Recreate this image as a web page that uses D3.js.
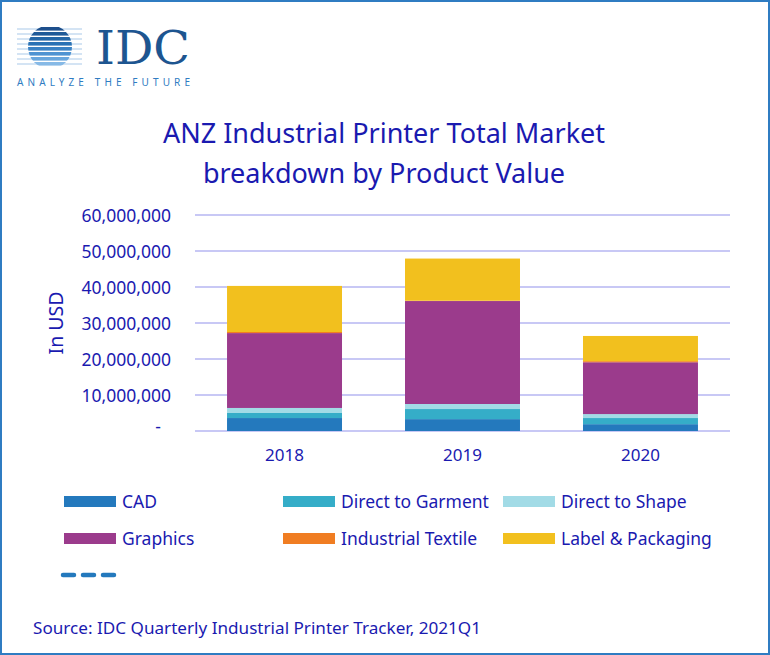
<!DOCTYPE html>
<html>
<head>
<meta charset="utf-8">
<script src="https://cdn.jsdelivr.net/npm/d3@7"></script>
<style>
  html, body { margin: 0; padding: 0; background: #fff; }
  svg text { font-family: "Noto Sans", "Open Sans", sans-serif; }
</style>
</head>
<body>
<div id="chart"></div>
<script>
// Datos (USD)
const years = ["2018", "2019", "2020"];
const seriesNames = ["CAD", "Direct to Garment", "Direct to Shape", "Graphics", "Industrial Textile", "Label & Packaging"];
const seriesColors = ["#2479bd", "#35adc8", "#a2dbe6", "#9b3b8c", "#f07d22", "#f2c01e"];
const cad = [3600000, 3300000, 1900000];
const directToGarment = [1400000, 2800000, 1700000];
const directToShape = [1400000, 1400000, 1100000];
const graphics = [20800000, 28600000, 14400000];
const industrialTextile = [300000, 100000, 300000];
const labelPackaging = [12800000, 11700000, 7000000];
const yTicks = [0, 10000000, 20000000, 30000000, 40000000, 50000000, 60000000];

const width = 770, height = 655;
const textColor = "#1a1ab0";

// Construir tabla para d3.stack
const table = years.map((y, i) => ({
  year: y,
  "CAD": cad[i],
  "Direct to Garment": directToGarment[i],
  "Direct to Shape": directToShape[i],
  "Graphics": graphics[i],
  "Industrial Textile": industrialTextile[i],
  "Label & Packaging": labelPackaging[i]
}));
const stacked = d3.stack().keys(seriesNames)(table);

const svg = d3.select("#chart").append("svg")
  .attr("width", width)
  .attr("height", height);

// Marco azul
svg.append("rect")
  .attr("x", 1).attr("y", 1)
  .attr("width", width - 2).attr("height", height - 2)
  .attr("fill", "#fff")
  .attr("stroke", "#2f7cc2")
  .attr("stroke-width", 2);

// Logo IDC (aproximado): rayas horizontales + esfera rayada
const logo = svg.append("g");
const stripeYs = [29, 34, 39, 44, 49, 54, 59, 64];
const stripeCols = ["#1d4f8c", "#1f5a98", "#2466a6", "#2a72b5", "#3b82c4", "#4f93d2", "#69a6dd", "#86b9e6"];
logo.append("clipPath").attr("id", "ball")
  .append("circle").attr("cx", 50).attr("cy", 47).attr("r", 22);
logo.selectAll(".thin").data(stripeYs).join("line")
  .attr("class", "thin")
  .attr("x1", 17).attr("x2", 82)
  .attr("y1", d => d).attr("y2", d => d)
  .attr("stroke", "#a9c9ea").attr("stroke-width", 1.2);
logo.append("g").attr("clip-path", "url(#ball)")
  .selectAll("rect").data(stripeYs).join("rect")
  .attr("x", 26).attr("width", 48)
  .attr("y", d => d - 2).attr("height", 3.6)
  .attr("fill", (d, i) => stripeCols[i]);
logo.append("text")
  .attr("x", 96).attr("y", 64)
  .style("font-family", "'DejaVu Serif', 'Liberation Serif', serif")
  .style("font-size", "46px")
  .attr("fill", "#1d5590")
  .attr("textLength", 94)
  .attr("lengthAdjust", "spacingAndGlyphs")
  .text("IDC");
logo.append("text")
  .attr("x", 17).attr("y", 86)
  .style("font-size", "10px")
  .attr("fill", "#2f7cc2")
  .attr("textLength", 173)
  .attr("lengthAdjust", "spacing")
  .text("ANALYZE THE FUTURE");

// Título
const title = svg.append("text")
  .attr("text-anchor", "middle")
  .attr("fill", textColor)
  .style("font-size", "27px");
title.append("tspan").attr("x", 384).attr("y", 143).text("ANZ Industrial Printer Total Market");
title.append("tspan").attr("x", 384).attr("y", 183).text("breakdown by Product Value");

// Escalas
const xScale = d3.scaleBand()
  .domain(years)
  .range([195, 730])
  .paddingInner(0.354)
  .paddingOuter(0.18);
const yScale = d3.scaleLinear()
  .domain([0, 60000000])
  .range([431, 215]);

// Líneas de cuadrícula
svg.append("g")
  .selectAll("line")
  .data(yTicks)
  .join("line")
  .attr("x1", 195).attr("x2", 730)
  .attr("y1", d => yScale(d)).attr("y2", d => yScale(d))
  .attr("stroke", "#b6b6f2")
  .attr("stroke-width", 1.5);

// Barras apiladas
svg.append("g")
  .selectAll("g")
  .data(stacked)
  .join("g")
  .attr("fill", (d, i) => seriesColors[i])
  .selectAll("rect")
  .data(d => d)
  .join("rect")
  .attr("x", d => xScale(d.data.year))
  .attr("y", d => yScale(d[1]))
  .attr("width", xScale.bandwidth())
  .attr("height", d => yScale(d[0]) - yScale(d[1]));

// Eje Y
const yAxis = d3.axisLeft(yScale)
  .tickValues(yTicks)
  .tickSize(0)
  .tickPadding(0)
  .tickFormat(d => d === 0 ? "-" : d3.format(",")(d));
const yAxisG = svg.append("g")
  .attr("transform", "translate(171,0)")
  .call(yAxis);
yAxisG.select(".domain").remove();
yAxisG.selectAll("text")
  .attr("fill", textColor)
  .attr("dy", "0.35em")
  .style("font-family", "'Noto Sans', sans-serif")
  .style("font-size", "17.5px");
yAxisG.selectAll(".tick").filter(d => d === 0).select("text").attr("x", -10).attr("dy", "0.1em");

// Eje X
const xAxis = d3.axisBottom(xScale).tickSize(0).tickPadding(0);
const xAxisG = svg.append("g")
  .attr("transform", "translate(0,449)")
  .call(xAxis);
xAxisG.select(".domain").remove();
xAxisG.selectAll("text")
  .attr("fill", textColor)
  .attr("dy", "0.71em")
  .style("font-family", "'Noto Sans', sans-serif")
  .style("font-size", "17px");

// Etiqueta eje Y
svg.append("text")
  .attr("transform", "translate(63,323) rotate(-90)")
  .attr("text-anchor", "middle")
  .attr("fill", textColor)
  .style("font-size", "19.5px")
  .text("In USD");

// Leyenda
const legendPos = [
  { x: 64, y: 501.5 }, { x: 283, y: 501.5 }, { x: 503, y: 501.5 },
  { x: 64, y: 538.5 }, { x: 283, y: 538.5 }, { x: 503, y: 538.5 }
];
const legend = svg.append("g")
  .selectAll("g")
  .data(seriesNames)
  .join("g")
  .attr("transform", (d, i) => `translate(${legendPos[i].x},${legendPos[i].y})`);
legend.append("rect")
  .attr("x", 0).attr("y", -5.5)
  .attr("width", 52).attr("height", 11)
  .attr("fill", (d, i) => seriesColors[i]);
legend.append("text")
  .attr("x", 58).attr("y", 0)
  .attr("dy", "0.35em")
  .attr("fill", textColor)
  .style("font-size", "17.5px")
  .text(d => d);

// Entrada de línea discontinua
svg.append("line")
  .attr("x1", 63).attr("x2", 114)
  .attr("y1", 575).attr("y2", 575)
  .attr("stroke", "#2479bd")
  .attr("stroke-width", 4.5)
  .attr("stroke-linecap", "round")
  .attr("stroke-dasharray", "11,9");

// Fuente
svg.append("text")
  .attr("x", 33).attr("y", 634)
  .attr("fill", textColor)
  .style("font-size", "17px")
  .attr("textLength", 448)
  .attr("lengthAdjust", "spacingAndGlyphs")
  .text("Source: IDC Quarterly Industrial Printer Tracker, 2021Q1");
</script>
</body>
</html>
